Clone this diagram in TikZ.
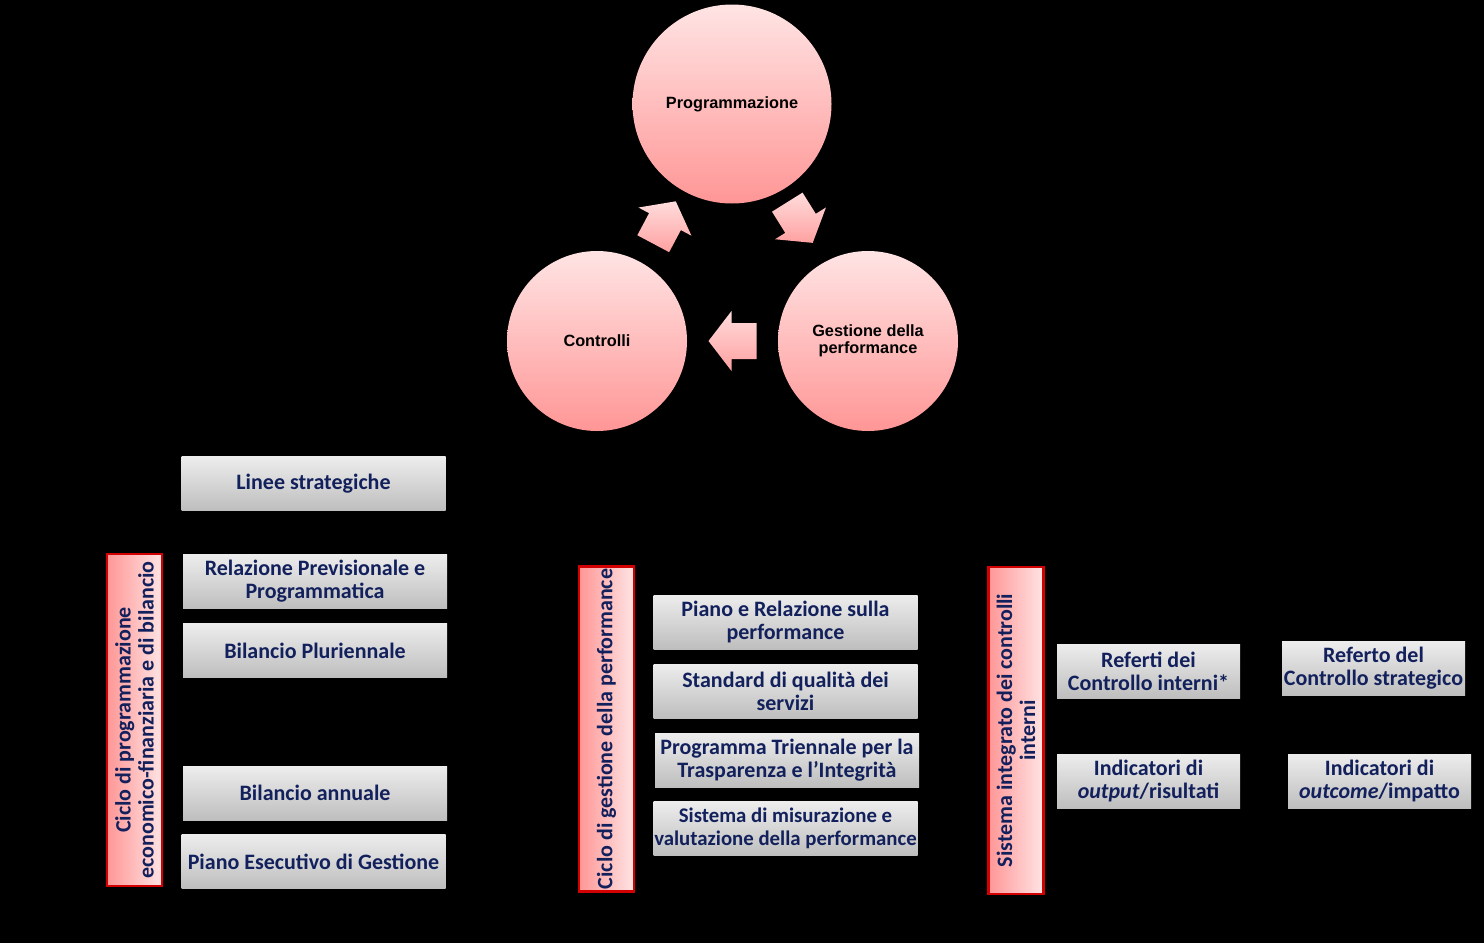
\documentclass[tikz,border=0pt]{standalone}
\usepackage{fontspec}
\setmainfont{Carlito}
\newfontfamily\arialfont{Liberation Sans}
\usetikzlibrary{calc}
\definecolor{navy}{RGB}{18,32,92}
\definecolor{pinklight}{RGB}{255,228,228}
\definecolor{pinkdark}{RGB}{255,150,150}
\definecolor{redline}{RGB}{210,0,0}
\definecolor{greylight}{RGB}{237,237,237}
\definecolor{greydark}{RGB}{190,190,190}

% block arrow halfway between two circles, pointing at angle #3 (picture frame, y down)
\newcommand{\cyclearrow}[3]{%
  \path ($(#1)!0.5!(#2)$) coordinate (mid);
  \begin{scope}[shift={(mid)}, x={(-#3:1pt)}, y={(-#3+90:1pt)}]
    \fill[top color=pinklight!90!pinkdark, bottom color=pinkdark!90]
      (-24,-18) -- (1,-18) -- (1,-30) -- (24,0) -- (1,30) -- (1,18) -- (-24,18) -- cycle;
  \end{scope}}

\begin{document}
\begin{tikzpicture}[x=1pt,y=-1pt,
    cyc/.style={circle, inner sep=0pt, top color=pinklight, bottom color=pinkdark,
      align=center, font=\arialfont\bfseries\fontsize{16.3}{17}\selectfont},
    doc/.style={minimum width=264pt, minimum height=54pt, inner sep=0pt,
      top color=greylight, bottom color=greydark, align=center, text=navy,
      font=\bfseries\fontsize{22}{23}\selectfont},
    small/.style={doc, minimum width=183pt},
    cycle box/.style={draw=redline, line width=2.5pt, rotate=90,
      minimum height=55pt, inner sep=0pt, left color=pinkdark, right color=pinklight,
      align=center, text=navy, font=\bfseries\fontsize{22}{23}\selectfont}]
  \useasboundingbox[fill=black] (0,0) rectangle (1484,943);

  % the cycle
  \node[cyc, minimum size=199pt] (prog) at (732,104) {Programmazione};
  \node[cyc, minimum size=180pt] (gest) at (868,341) {Gestione della\\performance};
  \node[cyc, minimum size=180pt] (ctrl) at (597,341) {Controlli};
  \cyclearrow{ctrl}{prog}{-62}
  \cyclearrow{prog}{gest}{58}
  \cyclearrow{gest}{ctrl}{180}

  % programmazione economico-finanziaria
  \node[cycle box, minimum width=332pt] (cfin) at (134.5,720)
    {Ciclo di programmazione\\economico-finanziaria e di bilancio};
  \node[doc] (linee) at (313.5,483.5) {Linee strategiche};
  \node[doc] (rpp) at (315,581.5) {Relazione Previsionale e\\Programmatica};
  \node[doc] (bplur) at (315,650.5) {Bilancio Pluriennale};
  \node[doc] (bann) at (315,793) {Bilancio annuale};
  \node[doc] (peg) at (313.5,861.5) {Piano Esecutivo di Gestione};

  % performance
  \node[cycle box, minimum width=325pt] (cperf) at (606.5,729)
    {Ciclo di gestione della performance};
  \node[doc] (piano) at (785.5,622) {Piano e Relazione sulla\\performance};
  \node[doc] (std) at (785.5,691) {Standard di qualità dei\\servizi};
  \node[doc] (ptti) at (787,760) {Programma Triennale per la\\Trasparenza e l’Integrità};
  \node[doc, font=\bfseries\fontsize{20.8}{23}\selectfont] (smvp) at (785.5,828.5)
    {Sistema di misurazione e\\valutazione della performance};

  % controlli
  \node[cycle box, minimum width=327pt] (cctrl) at (1016,730.5)
    {Sistema integrato dei controlli\\interni};
  \node[small] (referti) at (1148.5,671) {Referti dei\\Controllo interni*};
  \node[small] (output) at (1148.5,781) {Indicatori di\\\textit{output}/risultati};
  \node[small] (referto) at (1373.5,668) {Referto del\\Controllo strategico};
  \node[small] (outcome) at (1379.5,781) {Indicatori di\\\textit{outcome}/impatto};
\end{tikzpicture}
\end{document}
